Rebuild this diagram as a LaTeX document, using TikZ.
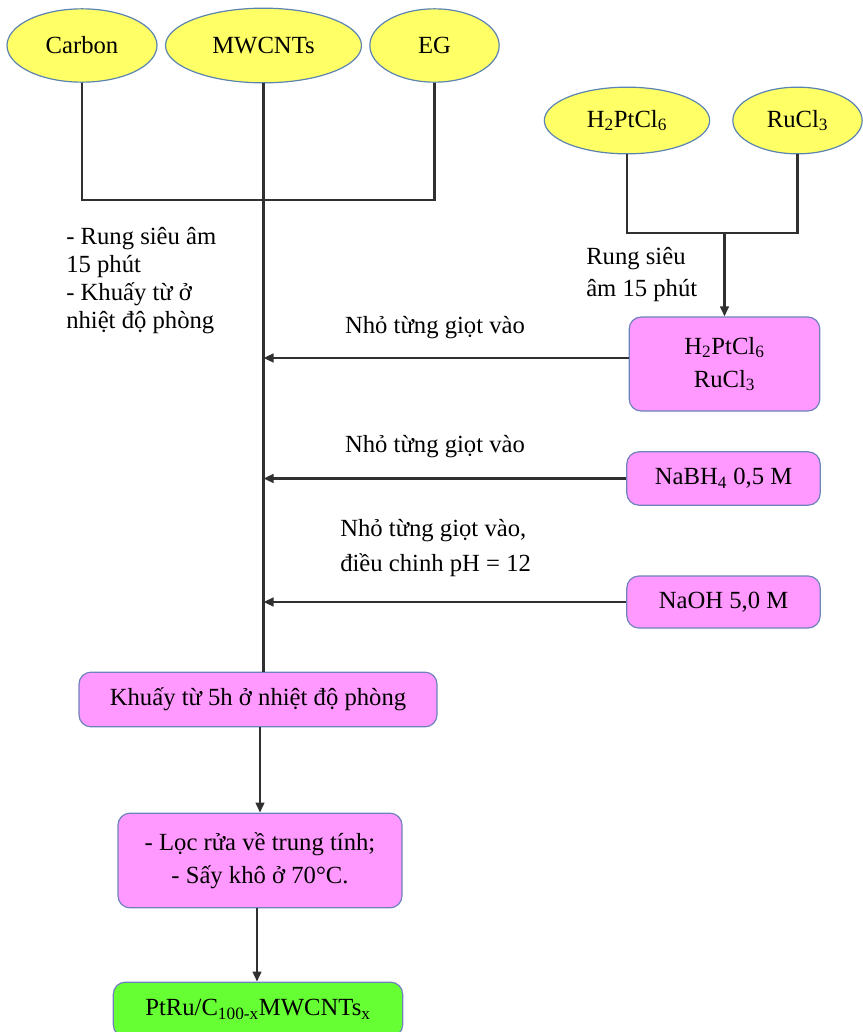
\documentclass[tikz,border=0pt]{standalone}
\usepackage{fontspec}
\setmainfont{Liberation Serif}
\newfontfamily\tnr{Liberation Serif}
\usetikzlibrary{shapes.geometric,arrows.meta}
\definecolor{ylw}{HTML}{FFFF66}
\definecolor{ylwb}{HTML}{5B84B1}
\definecolor{pnk}{HTML}{FF99FF}
\definecolor{pnkb}{HTML}{6F82BD}
\definecolor{grn}{HTML}{66FF33}
\definecolor{lnc}{HTML}{303030}
\newcommand{\msub}[1]{\textsubscript{#1}}
\begin{document}
\begin{tikzpicture}[x=0.75pt,y=-0.75pt,
  every node/.style={font=\tnr\fontsize{18.5}{22}\selectfont, text=black, inner sep=0pt},
  ell/.style={ellipse, draw=ylwb, line width=0.9pt, fill=ylw},
  pbox/.style={rectangle, rounded corners=9pt, draw=pnkb, line width=0.9pt, fill=pnk, align=center},
  gbox/.style={rectangle, rounded corners=9pt, draw=pnkb, line width=0.9pt, fill=grn, align=center},
  conn/.style={draw=lnc, line width=1.6pt},
  arr/.style={conn, -{Triangle[length=7.5pt,width=6.5pt]}},
  lbl/.style={align=left}
]
\useasboundingbox (0,0) rectangle (863,1032);
\clip (0,0) rectangle (863,1032);
% top ellipses
\node[ell, minimum width=112.5pt, minimum height=55pt] (c) at (82,45.5) {Carbon};
\node[ell, minimum width=147pt, minimum height=56pt] (m) at (263.5,45.5) {MWCNTs};
\node[ell, minimum width=97pt, minimum height=55pt] (e) at (434.5,45.5) {EG};
\node[ell, minimum width=124pt, minimum height=50pt] (h) at (627,120.5) {H\msub{2}PtCl\msub{6}};
\node[ell, minimum width=97pt, minimum height=50pt] (r) at (797.5,120.5) {RuCl\msub{3}};
% boxes
\node[pbox, minimum width=143pt, minimum height=70.5pt] (hb) at (724.5,364) {H\msub{2}PtCl\msub{6}\\[3pt]RuCl\msub{3}};
\node[pbox, minimum width=145pt, minimum height=40pt] (nb) at (723.5,478.5) {NaBH\msub{4} 0,5 M};
\node[pbox, minimum width=145pt, minimum height=39pt] (no) at (723.5,602) {NaOH 5,0 M};
\node[pbox, minimum width=268.5pt, minimum height=41pt] (k) at (258,699.5) {Khuấy từ 5h ở nhiệt độ phòng};
\node[pbox, minimum width=213pt, minimum height=71pt] (l) at (260,860.5) {- Lọc rửa về trung tính;\\[3pt]- Sấy khô ở 70°C.};
\node[gbox, minimum width=217pt, minimum height=41pt] (f) at (258,1009.5) {PtRu/C\msub{100-x}MWCNTs\msub{x}};
% join coordinates
\coordinate (j1) at (263.5,200);
\coordinate (j2) at (724.5,233);
% connectors
\draw[conn] (c.south) |- (j1) -| (e.south);
\draw[conn] (m.south) -- (m.south |- k.north);
\draw[conn] (h.south) |- (j2) -| (r.south);
\draw[arr] (j2) -- (hb.north);
\draw[arr] (hb.west |- 0,358) -- (m.south |- 0,358);
\draw[arr] (nb.west) -- (nb.west -| m.south);
\draw[arr] (no.west) -- (no.west -| m.south);
\draw[arr] (k.south -| 260,0) -- (l.north -| 260,0);
\draw[arr] (l.south -| 257,0) -- (f.north -| 257,0);
% labels
\node[lbl, anchor=west, font=\tnr\fontsize{18.5}{21}\selectfont] (t1) at (66,281) {- Rung siêu âm\\15 phút\\- Khuấy từ ở\\nhiệt độ phòng};
\node[lbl, anchor=west, font=\tnr\fontsize{18.5}{24}\selectfont] (t2) at (586,275) {Rung siêu\\âm 15 phút};
\node (t3) at (435,328) {Nhỏ từng giọt vào};
\node (t4) at (435,447) {Nhỏ từng giọt vào};
\node[lbl, anchor=west, font=\tnr\fontsize{18.5}{26}\selectfont] (t5) at (340,548) {Nhỏ từng giọt vào,\\điều chinh pH = 12};
\end{tikzpicture}
\end{document}
